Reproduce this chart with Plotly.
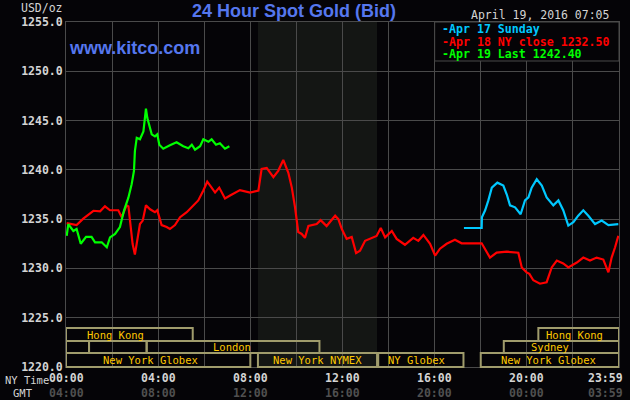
import plotly.graph_objects as go

# ---------------- data ----------------
red_h = [0.03, 0.46, 0.75, 1.19, 1.48, 1.69, 1.91, 2.27, 2.42, 2.63, 2.71, 2.81, 2.89, 2.99, 3.1, 3.21,
         3.33, 3.47, 3.65, 3.86, 3.96, 4.15, 4.37, 4.51, 4.73, 4.95, 5.24, 5.53, 5.74, 5.96, 6.13, 6.32,
         6.47, 6.65, 6.9, 7.12, 7.55, 7.99, 8.35, 8.49, 8.71, 9.0, 9.21, 9.43, 9.65, 9.8, 9.94, 10.08,
         10.23, 10.37, 10.52, 10.88, 11.05, 11.31, 11.68, 11.82, 11.97, 12.18, 12.4, 12.59, 12.76, 12.98,
         13.19, 13.48, 13.66, 13.85, 14.14, 14.35, 14.71, 15.07, 15.29, 15.51, 15.8, 16.02, 16.23, 16.52,
         16.88, 17.17, 18.04, 18.4, 18.69, 19.13, 19.63, 19.78, 19.99, 20.11, 20.28, 20.57, 20.86, 21.08,
         21.3, 21.58, 21.8, 22.17, 22.45, 22.74, 23.03, 23.32, 23.54, 23.68, 23.83, 23.97]
red_p = [1234.6, 1234.4, 1235.05, 1235.85, 1235.8, 1236.3, 1235.9, 1235.9, 1235.2, 1236.4, 1236.3, 1234.2,
         1232.5, 1231.4, 1232.8, 1234.5, 1234.85, 1236.4, 1236.0, 1235.7, 1235.9, 1234.4, 1234.2, 1234.0,
         1234.4, 1235.2, 1235.7, 1236.4, 1236.9, 1237.9, 1238.8, 1238.2, 1237.7, 1238.2, 1237.1, 1237.4,
         1237.95, 1237.7, 1237.9, 1240.1, 1240.2, 1239.25, 1239.9, 1241.0, 1239.7, 1238.2, 1236.2, 1233.7,
         1233.5, 1233.1, 1234.3, 1234.5, 1234.9, 1234.3, 1235.35, 1235.0, 1234.0, 1233.0, 1233.2, 1231.55,
         1231.8, 1232.8, 1233.0, 1233.3, 1234.1, 1233.15, 1233.8, 1233.0, 1232.4, 1233.1, 1232.8, 1233.4,
         1232.5, 1231.3, 1232.0, 1232.5, 1232.9, 1232.55, 1232.55, 1231.1, 1231.6, 1231.7, 1231.6, 1230.1,
         1229.6, 1229.45, 1228.8, 1228.45, 1228.6, 1230.1, 1230.8, 1230.5, 1230.1, 1230.6, 1231.1, 1230.8,
         1231.1, 1230.9, 1229.6, 1231.1, 1232.15, 1233.3]

cyan_h = [17.27, 18.04, 18.05, 18.19, 18.33, 18.48, 18.72, 18.98, 19.13, 19.27, 19.49, 19.73, 19.92, 20.07,
          20.21, 20.43, 20.65, 20.86, 21.15, 21.37, 21.58, 21.8, 22.02, 22.23, 22.45, 22.67, 22.96, 23.25,
          23.54, 23.97]
cyan_p = [1234.1, 1234.1, 1235.2, 1235.9, 1236.9, 1238.2, 1238.7, 1238.4, 1237.5, 1236.4, 1236.2, 1235.5,
          1236.9, 1237.2, 1238.2, 1239.05, 1238.4, 1237.2, 1236.4, 1236.9, 1235.9, 1234.35, 1234.7, 1235.35,
          1235.9, 1235.35, 1234.5, 1234.85, 1234.4, 1234.5]

green_h = [0.03, 0.1, 0.32, 0.46, 0.64, 0.87, 1.11, 1.26, 1.55, 1.77, 1.91, 2.13, 2.34, 2.52, 2.71, 2.85,
           2.95, 2.99, 3.07, 3.21, 3.36, 3.43, 3.47, 3.53, 3.62, 3.72, 3.86, 3.96, 4.05, 4.22, 4.51, 4.8,
           5.09, 5.31, 5.46, 5.6, 5.82, 5.96, 6.18, 6.32, 6.51, 6.68, 6.9, 7.09]
green_p = [1233.3, 1234.5, 1233.8, 1234.0, 1232.5, 1233.2, 1233.2, 1232.65, 1232.65, 1232.15, 1233.15,
           1233.5, 1234.2, 1235.9, 1237.2, 1238.55, 1239.9, 1241.9, 1243.25, 1243.1, 1243.9, 1245.1, 1246.2,
           1245.25, 1244.4, 1243.6, 1243.4, 1243.6, 1242.55, 1242.15, 1242.5, 1242.8, 1242.4, 1242.2,
           1242.55, 1242.05, 1242.4, 1243.1, 1242.85, 1243.1, 1242.55, 1242.7, 1242.15, 1242.4]

y_ticks = [1220, 1225, 1230, 1235, 1240, 1245, 1250, 1255]
y_tick_text = ["1220.0", "1225.0", "1230.0", "1235.0", "1240.0", "1245.0", "1250.0", "1255.0"]
x_label_pos = [0, 4, 8, 12, 16, 20, 24]
ny_labels = ["00:00", "04:00", "08:00", "12:00", "16:00", "20:00", "23:59"]
gmt_labels = ["04:00", "08:00", "12:00", "16:00", "20:00", "00:00", "03:59"]

legend_lines = ["-Apr 17 Sunday", "-Apr 18 NY close 1232.50", "-Apr 19 Last 1242.40"]
legend_colors = ["#00c8ff", "#ff0000", "#00ff00"]

# session boxes: (row, start hour, end hour)
session_boxes = [(1, 0, 5.5), (1, 20.5, 24),
                 (2, 0, 1), (2, 1, 3.5), (2, 3.5, 11), (2, 19, 24),
                 (3, 0, 8.0), (3, 8.33, 13.5), (3, 13.55, 17.25), (3, 18.0, 24)]
session_labels = [(1, 2.13, "Hong Kong"), (1, 22.05, "Hong Kong"), (2, 7.2, "London"),
                  (2, 21.0, "Sydney"), (3, 3.65, "New York Globex"), (3, 10.9, "New York NYMEX"),
                  (3, 15.2, "NY Globex"), (3, 20.96, "New York Globex")]
nymex_band = (8.33, 13.5)

# ---------------- figure ----------------
BG = "#050407"
GRID = "#4a4a4a"
MONO = "DejaVu Sans Mono"
BLUE = "#5577ee"

fig = go.Figure()
fig.add_trace(go.Scatter(x=red_h, y=red_p, mode="lines", line=dict(color="#ff0000", width=2.2),
                         hoverinfo="skip"))
fig.add_trace(go.Scatter(x=cyan_h, y=cyan_p, mode="lines", line=dict(color="#00c8ff", width=2.2),
                         hoverinfo="skip"))
fig.add_trace(go.Scatter(x=green_h, y=green_p, mode="lines", line=dict(color="#00ff00", width=2.2),
                         hoverinfo="skip"))

shapes = []
shapes.append(dict(type="rect", xref="x", yref="paper", x0=nymex_band[0], x1=nymex_band[1], y0=0, y1=1,
                   fillcolor="#141614", line=dict(width=0), layer="below"))
row_y = {1: (0.0754, 0.113), 2: (0.0406, 0.0754), 3: (0.0, 0.0406)}
for row, a, b in session_boxes:
    y0, y1 = row_y[row]
    shapes.append(dict(type="rect", xref="x", yref="paper", x0=a, x1=b, y0=y0, y1=y1,
                       line=dict(color="#a09c6c", width=2), fillcolor="rgba(0,0,0,0)", layer="above"))
shapes.append(dict(type="rect", xref="x", yref="paper", x0=16, x1=24, y0=0.887, y1=1,
                   fillcolor=BG, line=dict(color=GRID, width=1), layer="above"))


def px(xp):
    return (xp - 66) / 553.0


def py(yp):
    return (367 - yp) / 345.0


annotations = []
for row, xh, txt in session_labels:
    y0, y1 = row_y[row]
    annotations.append(dict(x=xh, y=(y0 + y1) / 2, xref="x", yref="paper", text=txt, showarrow=False,
                            font=dict(family=MONO, size=10.5, color="#ffc800"),
                            xanchor="center", yanchor="middle"))
for i, (xp, ny, gm) in enumerate(zip(x_label_pos, ny_labels, gmt_labels)):
    last = i == len(x_label_pos) - 1
    annotations.append(dict(x=xp, y=0, xref="x", yref="paper", text="<b>%s</b>" % ny, showarrow=False,
                            font=dict(family=MONO, size=11.5, color="#d4d4d4"),
                            xanchor="right" if last else "center", xshift=6 if last else 0,
                            yanchor="middle", yshift=-11))
    annotations.append(dict(x=xp, y=0, xref="x", yref="paper", text="<b>%s</b>" % gm, showarrow=False,
                            font=dict(family=MONO, size=11.5, color="#505050"),
                            xanchor="right" if last else "center", xshift=6 if last else 0,
                            yanchor="middle", yshift=-26))
annotations.append(dict(x=px(3), y=py(380), xref="paper", yref="paper", text="NY Time", showarrow=False,
                        font=dict(family=MONO, size=10.5, color="#d4d4d4"), xanchor="left", yanchor="middle"))
annotations.append(dict(x=px(11), y=py(392.5), xref="paper", yref="paper", text="GMT", showarrow=False,
                        font=dict(family=MONO, size=10.5, color="#d4d4d4"), xanchor="left", yanchor="middle"))
annotations.append(dict(x=px(19), y=py(8), xref="paper", yref="paper", text="USD/oz", showarrow=False,
                        font=dict(family=MONO, size=11.5, color="#d4d4d4"), xanchor="left", yanchor="middle"))
annotations.append(dict(x=px(469), y=py(15), xref="paper", yref="paper", text="April 19, 2016 07:05",
                        showarrow=False, font=dict(family=MONO, size=11.5, color="#d4d4d4"),
                        xanchor="left", yanchor="middle"))
annotations.append(dict(x=px(293.5), y=py(11), xref="paper", yref="paper", text="<b>24 Hour Spot Gold (Bid)</b>",
                        showarrow=False, font=dict(family="Liberation Sans", size=18, color=BLUE),
                        xanchor="center", yanchor="middle"))
annotations.append(dict(x=px(67), y=py(48), xref="paper", yref="paper", text="<b>www.kitco.com</b>",
                        showarrow=False, font=dict(family="Liberation Sans", size=18, color=BLUE),
                        xanchor="left", yanchor="middle"))
for i, (txt, col) in enumerate(zip(legend_lines, legend_colors)):
    annotations.append(dict(x=px(440), y=py(29 + 12.5 * i), xref="paper", yref="paper",
                            text="<b>%s</b>" % txt, showarrow=False,
                            font=dict(family=MONO, size=11.6, color=col),
                            xanchor="left", yanchor="middle"))

fig.update_layout(
    width=630, height=400,
    margin=dict(l=66, r=11, t=22, b=33, pad=0, autoexpand=False),
    paper_bgcolor=BG, plot_bgcolor=BG,
    showlegend=False,
    shapes=shapes, annotations=annotations,
    xaxis=dict(range=[0, 24], tickmode="linear", tick0=0, dtick=2, showticklabels=False,
               showgrid=True, gridcolor=GRID, gridwidth=1, zeroline=False,
               showline=True, linecolor=GRID, mirror=True, ticks=""),
    yaxis=dict(range=[1220, 1255], tickvals=y_ticks, ticktext=y_tick_text,
               tickfont=dict(family=MONO, size=11.5, color="#d4d4d4", weight="bold"),
               showgrid=True, gridcolor=GRID, gridwidth=1, zeroline=False,
               showline=True, linecolor=GRID, mirror=True, ticks=""),
)

fig.write_html("out.html", config={"displayModeBar": False},
               post_script="document.body.style.margin='0';document.body.style.background='%s';" % BG)
